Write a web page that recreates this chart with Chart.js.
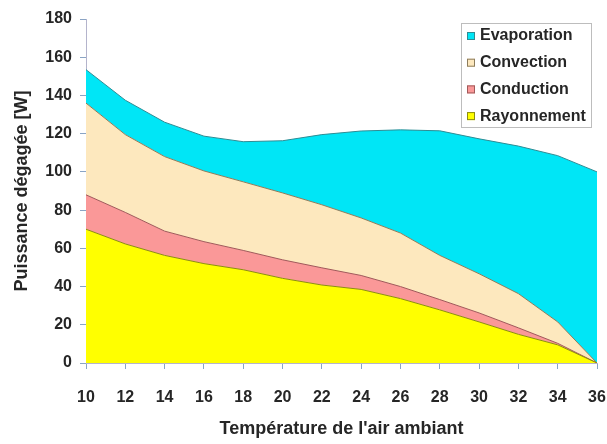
<!DOCTYPE html>
<html>
<head>
<meta charset="utf-8">
<script src="https://cdn.jsdelivr.net/npm/chart.js@4/dist/chart.umd.min.js"></script>
<style>
  html, body { margin: 0; padding: 0; background: #ffffff; }
  #wrap { width: 607px; height: 444px; position: relative; }
</style>
</head>
<body>
<div id="wrap"><canvas id="c" width="607" height="444"></canvas></div>
<script>
// ---- Data ----
const temperatures = ["10","12","14","16","18","20","22","24","26","28","30","32","34","36"];
const yTicks = [0, 20, 40, 60, 80, 100, 120, 140, 160, 180];
const seriesNames = ["Rayonnement", "Conduction", "Convection", "Evaporation"];
const rayonnement = [70, 62.3, 56.3, 52, 48.8, 44.3, 40.8, 38.5, 33.7, 27.8, 21.5, 15, 9.5, 0];
const conduction  = [18, 16.5, 12.7, 11.5, 10.1, 9.7, 9, 7.3, 6.3, 5.4, 4.7, 3.4, 0.8, 0];
const convection  = [48, 40.7, 39, 37, 35.9, 35, 33, 30.1, 28, 23.1, 20.5, 17.9, 11.2, 0];
const evaporation = [17.5, 18, 18, 18.2, 21, 27.3, 36.7, 45.5, 54, 65.2, 70.6, 77.2, 87, 100];

const FONT = "'Liberation Sans', Arial, sans-serif";
const TEXT = '#262626';

const fills   = ['#FFFF00', '#FA9898', '#FDE8BE', '#00E6F6'];
const borders = ['#8C8C10', '#A05A5A', '#8C7C5C', '#2E8C94'];
const values  = [rayonnement, conduction, convection, evaporation];

const datasets = values.map((v, i) => ({
  label: seriesNames[i],
  data: v,
  backgroundColor: fills[i],
  borderColor: borders[i],
  borderWidth: 1,
  pointRadius: 0,
  pointHoverRadius: 0,
  tension: 0,
  fill: i === 0 ? 'origin' : '-1'
}));

// Legend drawn inside the plot area, in a bordered box (reverse order like the reference)
const boxedLegend = {
  id: 'boxedLegend',
  afterDraw(chart) {
    const ctx = chart.ctx;
    const ca = chart.chartArea;
    const w = 130, h = 104;
    const x0 = ca.right - 6 - w;
    const y0 = ca.top + 4;
    ctx.save();
    ctx.fillStyle = '#ffffff';
    ctx.fillRect(x0, y0, w, h);
    ctx.strokeStyle = '#BDBDBD';
    ctx.lineWidth = 1;
    ctx.strokeRect(x0 + 0.5, y0 + 0.5, w, h);
    ctx.font = 'bold 16px ' + FONT;
    ctx.textBaseline = 'middle';
    ctx.textAlign = 'left';
    const ds = chart.data.datasets;
    const order = [3, 2, 1, 0];
    order.forEach((di, row) => {
      const cy = y0 + 13 + row * 26.7;
      const d = ds[di];
      ctx.fillStyle = d.backgroundColor;
      ctx.fillRect(x0 + 6, cy - 4, 8, 8);
      ctx.strokeStyle = d.borderColor;
      ctx.strokeRect(x0 + 6.5, cy - 3.5, 7, 7);
      ctx.fillStyle = TEXT;
      ctx.fillText(d.label, x0 + 19, cy);
    });
    ctx.restore();
  }
};

new Chart(document.getElementById('c'), {
  type: 'line',
  data: { labels: temperatures, datasets },
  options: {
    responsive: false,
    animation: false,
    devicePixelRatio: 1,
    layout: { padding: { top: 19, right: 10, bottom: 0, left: 0 } },
    plugins: {
      legend: { display: false },
      tooltip: { enabled: false }
    },
    scales: {
      x: {
        type: 'category',
        offset: false,
        grid: { display: true, drawOnChartArea: false, drawTicks: true, tickLength: 6, color: '#8AA4C4' },
        border: { display: true, color: '#B4B4CC', width: 1 },
        ticks: { color: TEXT, font: { family: FONT, size: 16, weight: 'bold' }, padding: 19, maxRotation: 0, autoSkip: false },
        title: { display: true, text: "Température de l'air ambiant", color: TEXT,
                 font: { family: FONT, size: 18, weight: 'bold' }, padding: { top: 0, bottom: 4 } },
        afterFit(s) { s.height = 81; s.paddingRight = 9; s.paddingLeft = 0; }
      },
      y: {
        stacked: true,
        min: 0,
        max: 180,
        afterBuildTicks(s) { s.ticks = yTicks.map(v => ({ value: v })); },
        grid: { display: true, drawOnChartArea: false, drawTicks: true, tickLength: 6, color: '#8AA4C4' },
        border: { display: true, color: '#B4B4CC', width: 1 },
        ticks: { color: TEXT, font: { family: FONT, size: 16, weight: 'bold' }, padding: 8 },
        title: { display: true, text: 'Puissance dégagée [W]', color: TEXT,
                 font: { family: FONT, size: 18, weight: 'bold' }, padding: { top: 11, bottom: 0 } },
        afterFit(s) { s.width = 86; }
      }
    }
  },
  plugins: [boxedLegend]
});
</script>
</body>
</html>
